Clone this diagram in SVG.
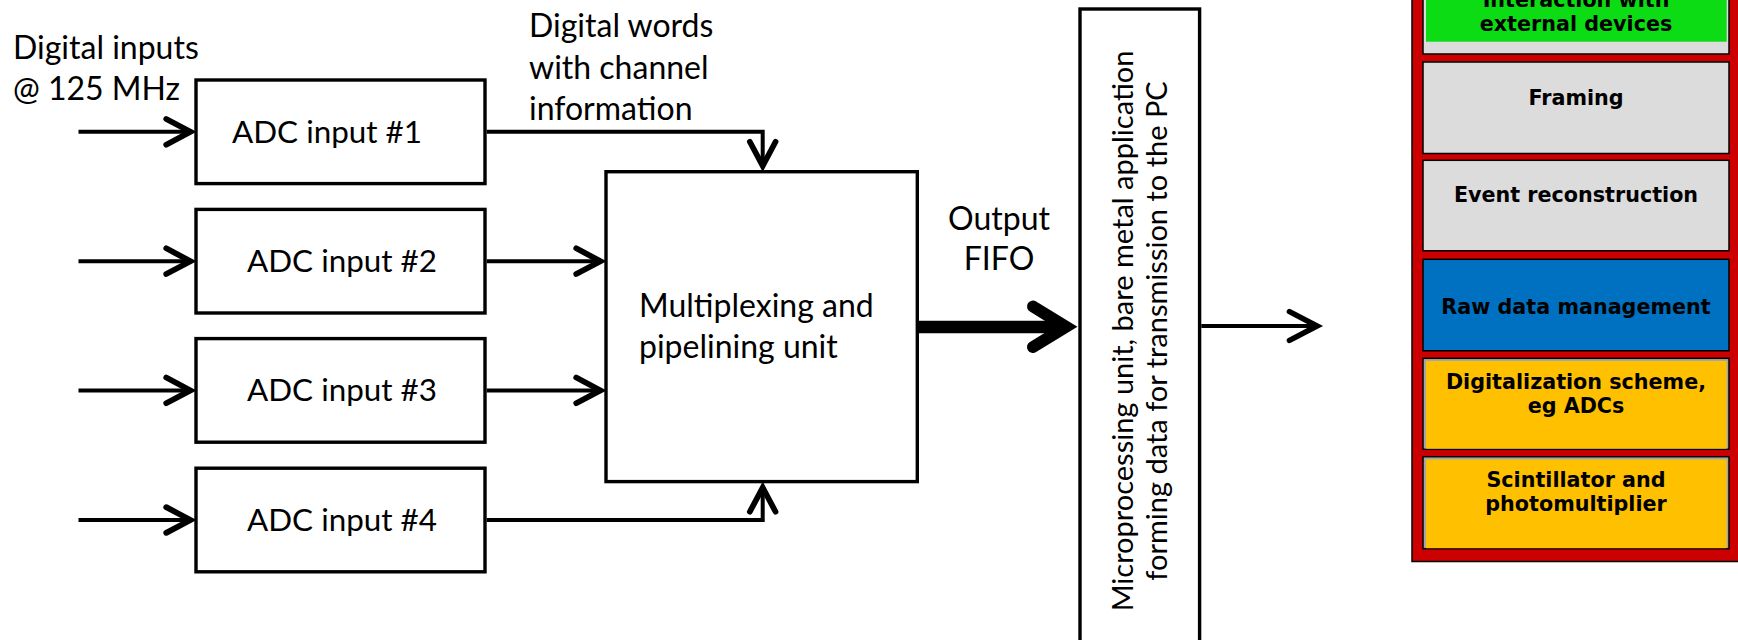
<svg xmlns="http://www.w3.org/2000/svg" width="1738" height="640" viewBox="0 0 1738 640">
<defs>
<style>
.box{fill:#fff;stroke:#000;stroke-width:3.4}
.lbl{font-family:Lato,"Open Sans","Liberation Sans",sans-serif;font-size:32px;fill:#000}
.adc{font-size:31.4px}
.rot{font-size:29px}
.conn{fill:none;stroke:#000;stroke-width:4}
.stk{font-family:"DejaVu Sans",Verdana,sans-serif;font-weight:bold;font-size:20.7px;fill:#000;text-anchor:middle}
.lay{stroke:#000;stroke-width:1.5}
</style>
<marker id="ah" markerUnits="userSpaceOnUse" orient="auto" refX="0" refY="0" markerWidth="40" markerHeight="40" viewBox="-22 -14 26 28" overflow="visible">
<path d="M-17,-9 L0,0 L-17,9" fill="none" stroke="#000" stroke-width="4" stroke-linecap="round"/>
</marker>
<marker id="ah2" markerUnits="userSpaceOnUse" orient="auto" refX="0" refY="0" markerWidth="40" markerHeight="40" viewBox="-28 -16 32 32" overflow="visible">
<path d="M-22,-11.5 L0,0 L-22,11.5" fill="none" stroke="#000" stroke-width="4.5" stroke-linecap="round"/>
</marker>
</defs>
<rect x="0" y="0" width="1738" height="640" fill="#fff"/>

<text class="lbl" x="13" y="59">Digital inputs</text>
<text class="lbl" x="13" y="100">@ 125 MHz</text>
<text class="lbl" x="529" y="37">Digital words</text>
<text class="lbl" x="529" y="79">with channel</text>
<text class="lbl" x="529" y="120">information</text>
<text class="lbl" x="999" y="230" text-anchor="middle">Output</text>
<text class="lbl" x="999" y="270" text-anchor="middle">FIFO</text>

<g id="adc1"><rect class="box" x="196" y="80" width="289" height="103.6"/><text class="lbl adc" x="232" y="143">ADC input #1</text></g>
<g id="adc2"><rect class="box" x="196" y="209.4" width="289" height="103.6"/><text class="lbl adc" x="247" y="272">ADC input #2</text></g>
<g id="adc3"><rect class="box" x="196" y="338.6" width="289" height="103.6"/><text class="lbl adc" x="247" y="401">ADC input #3</text></g>
<g id="adc4"><rect class="box" x="196" y="468.2" width="289" height="103.6"/><text class="lbl adc" x="247" y="531">ADC input #4</text></g>

<g id="mux"><rect class="box" x="606" y="171.7" width="311.3" height="309.9"/>
<text class="lbl" x="639" y="317">Multiplexing and</text>
<text class="lbl" x="639" y="358">pipelining unit</text></g>

<g id="mpu"><rect class="box" x="1080" y="9" width="119.6" height="650"/>
<text class="lbl rot" transform="translate(1133.3,331) rotate(-90)" text-anchor="middle">Microprocessing unit, bare metal application</text>
<text class="lbl rot" transform="translate(1167,331) rotate(-90)" text-anchor="middle">forming data for transmission to the PC</text></g>

<g id="stack">
<rect x="1412" y="-20" width="340" height="581.5" fill="#cc0000" stroke="#000" stroke-width="1.5"/>
<g id="layer-ext"><rect class="lay" x="1423" y="-40" width="306" height="94" fill="#dcdcdc"/><rect x="1426" y="-40" width="300.7" height="81.7" fill="#0cdc14"/>
<text class="stk" x="1576" y="7">Interaction with</text><text class="stk" x="1576" y="31">external devices</text></g>
<g id="layer-framing"><rect class="lay" x="1423" y="62" width="306" height="91.5" fill="#dcdcdc"/><text class="stk" x="1576" y="105">Framing</text></g>
<g id="layer-event"><rect class="lay" x="1423" y="160.3" width="306" height="90.5" fill="#dcdcdc"/><text class="stk" x="1576" y="202">Event reconstruction</text></g>
<g id="layer-raw"><rect class="lay" x="1423" y="259.3" width="306" height="91.5" fill="#0070c0"/><text class="stk" x="1576" y="314">Raw data management</text></g>
<g id="layer-digit"><rect class="lay" x="1423" y="358.3" width="306" height="91" fill="#a6a6a6"/><rect x="1426" y="361" width="300.7" height="87.7" fill="#ffc000"/>
<text class="stk" x="1576" y="388.5">Digitalization scheme,</text><text class="stk" x="1576" y="413">eg ADCs</text></g>
<g id="layer-scint"><rect class="lay" x="1423" y="456.7" width="306" height="92" fill="#a6a6a6"/><rect x="1426" y="459.5" width="300.7" height="88.7" fill="#ffc000"/>
<text class="stk" x="1576" y="487">Scintillator and</text><text class="stk" x="1576" y="511">photomultiplier</text></g>
</g>

<g id="connectors">
<path class="conn" d="M78.5,131.8 H190.5" marker-end="url(#ah)"/>
<path class="conn" d="M78.5,261.2 H190.5" marker-end="url(#ah)"/>
<path class="conn" d="M78.5,390.4 H190.5" marker-end="url(#ah)"/>
<path class="conn" d="M78.5,520 H190.5" marker-end="url(#ah)"/>
<path class="conn" d="M486.7,131.8 H762.7 V166" marker-end="url(#ah)"/>
<path class="conn" d="M486.7,261.2 H600.5" marker-end="url(#ah)"/>
<path class="conn" d="M486.7,390.4 H600.5" marker-end="url(#ah)"/>
<path class="conn" d="M486.7,520 H762.7 V487.5" marker-end="url(#ah)"/>
<path d="M919,327 H1066" fill="none" stroke="#000" stroke-width="12.5"/>
<path d="M1033,306.5 L1066,326.8 L1033,347" fill="none" stroke="#000" stroke-width="12" stroke-linecap="round" stroke-linejoin="miter"/>
<path class="conn" d="M1201.3,326 H1317" marker-end="url(#ah2)"/>
</g>
</svg>
